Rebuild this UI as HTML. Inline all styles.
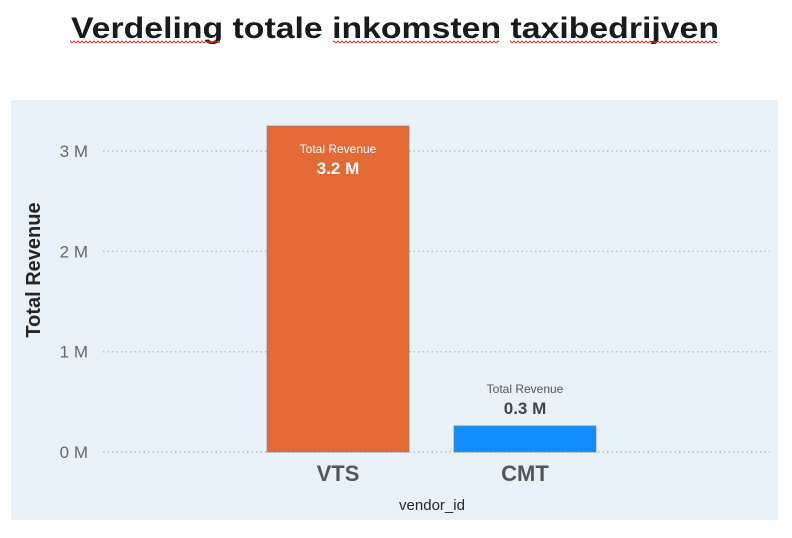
<!DOCTYPE html>
<html><head><meta charset="utf-8"><style>
body{margin:0;background:#fff;width:792px;height:533px;overflow:hidden;font-family:"Liberation Sans",sans-serif}
</style></head><body>
<svg width="792" height="533">
<defs><pattern id="sq" width="4" height="4" patternUnits="userSpaceOnUse"><path d="M0 3 L2 1 L4 3" fill="none" stroke="#e03030" stroke-width="1"/></pattern></defs>
<text x="395" y="38" text-anchor="middle" font-size="30" font-weight="bold" fill="#1a1a1a" textLength="648" lengthAdjust="spacingAndGlyphs">Verdeling totale inkomsten taxibedrijven</text>
<g>
<rect x="70" y="40" width="150" height="4" fill="url(#sq)"/>
<rect x="333" y="40" width="166" height="4" fill="url(#sq)"/>
<rect x="510" y="40" width="207" height="4" fill="url(#sq)"/>
</g>
<rect x="11" y="100" width="767" height="420" fill="#e8f1f8"/>
<g id="grid"></g>
<g id="bars"></g>
<text transform="translate(40,270) rotate(-90)" text-anchor="middle" font-size="20" font-weight="bold" fill="#252525">Total Revenue</text>
<text x="432" y="510" text-anchor="middle" font-size="15" fill="#252525">vendor_id</text>
</svg>
<script>
const categories=["VTS","CMT"];
const revenues=[3.25,0.26];
const labels=["3.2 M","0.3 M"];
const ticks=[0,1,2,3];
const tickLabels=["0 M","1 M","2 M","3 M"];
const colors=["#e46a35","#118dff"];
const NS="http://www.w3.org/2000/svg";
const y=v=>452-v*100.3;
const xCenter=i=>338+i*187;
const grid=document.getElementById('grid'),bars=document.getElementById('bars');
function mk(p,tag,a,txt){const e=document.createElementNS(NS,tag);for(const k in a)e.setAttribute(k,a[k]);if(txt!==undefined)e.textContent=txt;p.appendChild(e);return e;}
ticks.forEach((t,i)=>{
 const l=mk(grid,'line',{x1:103,x2:770,y1:y(t),y2:y(t),stroke:'#b8bec4','stroke-width':1.5,'stroke-dasharray':'1.5 3'});
 
 
 const tx=mk(grid,'text',{x:88,y:y(t)+6,'text-anchor':'end','font-size':17,fill:'#666'},tickLabels[i]);
 
 
});
categories.forEach((c,i)=>{
 const cx=xCenter(i),top=y(revenues[i]);
 const r=mk(bars,'rect',{x:cx-71,y:top,width:142,height:y(0)-top,fill:colors[i],stroke:'#7a7a7a','stroke-opacity':0.6,'stroke-width':1});
 
 
 const inside=(y(0)-top)>60;
 const ty=inside?top+27:top-33;
 const t1=mk(bars,'text',{x:cx,y:ty,'text-anchor':'middle','font-size':12,fill:inside?'#fff':'#555'},'Total Revenue');
 
 
 const t2=mk(bars,'text',{x:cx,y:ty+21,'text-anchor':'middle','font-size':17,'font-weight':'bold',fill:inside?'#fff':'#444'},labels[i]);
 
 
 const xl=mk(bars,'text',{x:cx,y:481,'text-anchor':'middle','font-size':22,'font-weight':'bold',fill:'#555'},c);
 
 
});
</script>
</body></html>
